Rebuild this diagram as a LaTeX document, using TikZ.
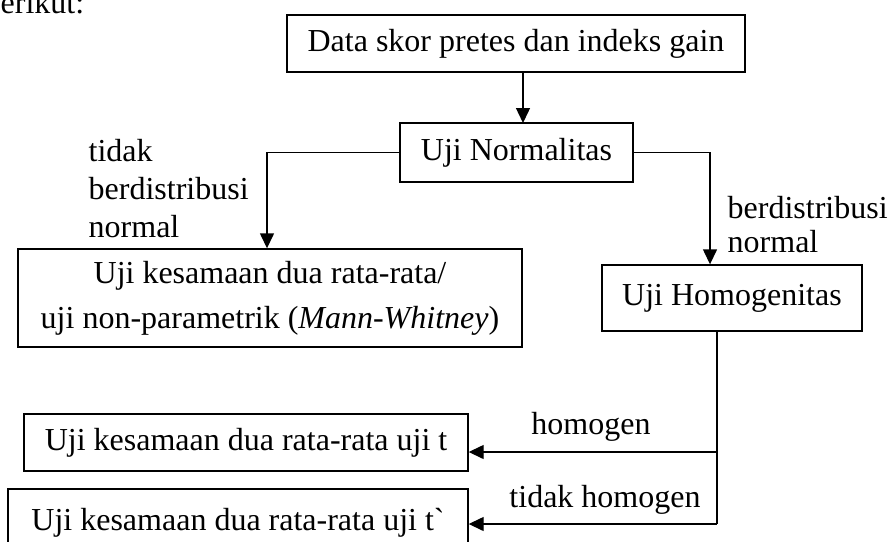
\documentclass[tikz,border=0pt]{standalone}
\usepackage{fontspec}
\setmainfont{Liberation Serif}
\usetikzlibrary{arrows.meta}

\begin{document}
\begin{tikzpicture}[x=1pt, y=-1pt, line width=1.4pt,
  every node/.style={font=\fontsize{32}{38}\selectfont},
  box/.style={draw, rectangle, inner sep=0pt, align=center},
  lbl/.style={inner sep=0pt, align=left},
  arr/.style={-{Triangle[length=15pt,width=14pt]}}]
  \useasboundingbox (0,0) rectangle (890,541);
  \clip (0,0) rectangle (890,541);
  \node[lbl, anchor=base west] (intro) at (-16,13) {berikut:};
  \node[box, minimum width=458pt, minimum height=57pt] (data) at (516,43.5) {Data skor pretes dan indeks gain};
  \node[box, minimum width=233pt, minimum height=59pt] (norm) at (516.5,152.5) {Uji Normalitas};
  \node[box, minimum width=504pt, minimum height=98pt, font=\fontsize{32}{45}\selectfont] (mw) at (270,298) {Uji kesamaan dua rata-rata/\\uji non-parametrik (\textit{Mann-Whitney})};
  \node[box, minimum width=260pt, minimum height=66pt] (homo) at (732,298) {Uji Homogenitas};
  \node[box, minimum width=444pt, minimum height=57pt] (ujit) at (246,442.5) {Uji kesamaan dua rata-rata uji t};
  \node[box, minimum width=460pt, minimum height=68pt] (ujit2) at (238,523) {Uji kesamaan dua rata-rata uji t\textasciigrave};
  \node[lbl, anchor=west] (tdk) at (88,189) {tidak\\berdistribusi\\normal};
  \node[lbl, anchor=west, font=\fontsize{32}{34}\selectfont] (yes) at (727,224.5) {berdistribusi\\normal};
  \node[lbl] (hom) at (591,427) {homogen};
  \node[lbl] (thom) at (605,500) {tidak homogen};
  \coordinate (c1) at (523,72);
  \coordinate (c2) at (523,123);
  \coordinate (c3) at (267,152.5);
  \coordinate (c4) at (710,152.5);
  \coordinate (c5) at (717,331);
  \coordinate (c6) at (717,452);
  \coordinate (c7) at (717,524);
  \draw[arr] (c1) -- (c2);
  \draw[arr] (norm.west) -- (c3) -- (c3 |- mw.north);
  \draw[arr] (norm.east) -- (c4) -- (c4 |- homo.north);
  \draw (c5) -- (c7);
  \draw[arr] (c6) -- (c6 -| ujit.east);
  \draw[arr] (c7) -- (c7 -| ujit2.east);
\end{tikzpicture}
\end{document}
